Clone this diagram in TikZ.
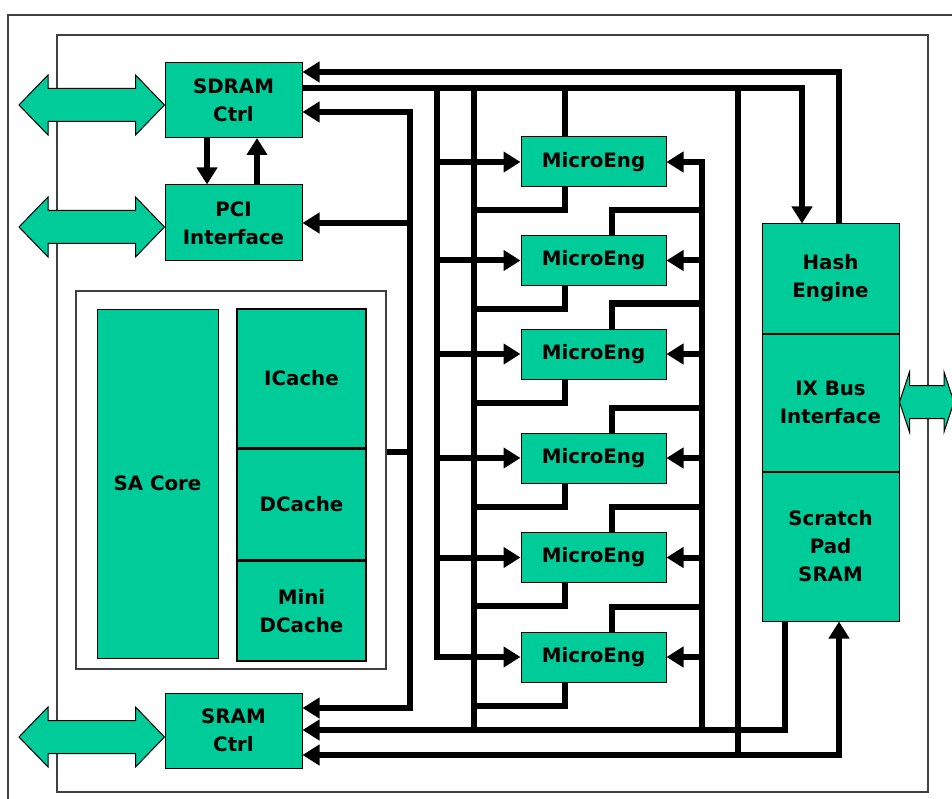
\documentclass[tikz,border=0pt]{standalone}
\usepackage{fontspec}
\setmainfont{DejaVu Sans}
\usepackage{tikz}
\usetikzlibrary{positioning,arrows.meta}
\definecolor{chipgreen}{RGB}{0,204,153}
\newcommand{\busway}[3]{%
  \filldraw[fill=chipgreen,draw=black,line width=1pt]
    (#1) -- ([shift={(#3,30)}]#1) -- ([shift={(#3,16.5)}]#1)
    -- ([shift={(-#3,16.5)}]#2) -- ([shift={(-#3,30)}]#2) -- (#2)
    -- ([shift={(-#3,-30)}]#2) -- ([shift={(-#3,-16.5)}]#2)
    -- ([shift={(#3,-16.5)}]#1) -- ([shift={(#3,-30)}]#1) -- cycle;}

\begin{document}
\begin{tikzpicture}[
    x=1pt, y=-1pt,
    font=\bfseries\fontsize{19.8}{28}\selectfont,
    blk/.style={rectangle, draw, fill=chipgreen, line width=1pt, align=center, inner sep=0pt},
    ctrl/.style={blk, minimum width=137pt, minimum height=75pt},
    cache/.style={blk, minimum width=129pt, line width=1.6pt},
    me/.style={blk, minimum width=145pt, minimum height=50pt},
    frame/.style={draw=black!75, line width=1.5pt},
    bus/.style={line width=6pt},
    arrow/.style={bus, -{Triangle[length=17pt,width=20pt]}},
    dblarrow/.style={bus, {Triangle[length=17pt,width=20pt]}-{Triangle[length=17pt,width=20pt]}}
]
\useasboundingbox (0,0) rectangle (952,799);
\clip (0,0) rectangle (952,799);
\fill[white] (0,0) rectangle (952,799);
\draw[frame] (8,15) rectangle (990,840);
\draw[frame] (57,35) rectangle (928,792);

\node[ctrl] (sdram) at (233.5,100) {SDRAM\\Ctrl};
\node[ctrl, minimum height=76pt] (pci) at (233.5,223) {PCI\\Interface};
\node[ctrl] (sram) at (233.5,730.5) {SRAM\\Ctrl};

\node[frame, fill=white, minimum width=310pt, minimum height=378pt] (core) at (231,480) {};
\node[blk, minimum width=121pt, minimum height=349pt] (sacore) at (157.5,483.5) {SA Core};
\node[cache, minimum height=139pt] (icache) at (301.5,378.5) {ICache};
\node[cache, minimum height=110pt, below=0pt of icache] (dcache) {DCache};
\node[cache, minimum height=100pt, below=0pt of dcache] (minidc) {Mini\\DCache};

\foreach \i/\y in {1/162,2/260.5,3/354,4/458,5/557.5,6/657}
  \node[me] (me\i) at (593.5,\y) {MicroEng};

\node[blk, minimum width=137pt, minimum height=109pt] (hash) at (830.5,278.5) {Hash\\Engine};
\node[blk, minimum width=137pt, minimum height=137pt, below=0pt of hash] (ixbus) {IX Bus\\Interface};
\node[blk, minimum width=137pt, minimum height=149pt, below=0pt of ixbus] (scratch) {Scratch\\Pad\\SRAM};

\coordinate (sdramext) at (19,105);
\coordinate (pciext) at (19,227);
\coordinate (sramext) at (19,737);
\coordinate (ixext) at (954,402);
\busway{sdramext}{sdram.west |- sdramext}{29}
\busway{pciext}{pci.west |- pciext}{29}
\busway{sramext}{sram.west |- sramext}{29}
\busway{ixbus.east |- ixext}{ixext}{10}

\coordinate (sysbus) at (410,0);
\coordinate (mein) at (437,0);
\coordinate (meout) at (474,0);
\coordinate (mebot) at (565,0);
\coordinate (metop) at (612,0);
\coordinate (meret) at (702,0);
\coordinate (sbus) at (738,0);
\coordinate (spout) at (785,0);
\coordinate (hashin) at (802,0);
\coordinate (hashout) at (839,0);
\coordinate (r72) at (0,72);
\coordinate (r88) at (0,88);
\coordinate (r112) at (0,112);
\coordinate (r452) at (0,452);
\coordinate (r708) at (0,708);
\coordinate (r730) at (0,730);
\coordinate (r755) at (0,755);

\draw[arrow] ([xshift=-26.5pt]sdram.south) -- ([xshift=-26.5pt]pci.north);
\draw[arrow] ([xshift=23.5pt]pci.north) -- ([xshift=23.5pt]sdram.south);

\draw[arrow] (hash.north -| hashout) |- (sdram.east |- r72);
\draw[arrow] (sdram.east |- r88) -| (hash.north -| hashin);
\draw[dblarrow] (sdram.east |- r112) -| (sysbus |- r708) -- (sram.east |- r708);
\draw[arrow] (sysbus |- pci.east) -- (pci.east);
\draw[bus] (core.east |- r452) -- (sysbus |- r452);

\draw[arrow] (mein |- r88) |- (me6.west);
\foreach \i in {1,...,5}
  \draw[arrow] (mein |- me\i.west) -- (me\i.west);
\draw[bus] (meout |- r88) -- (meout |- r730);
\draw[bus] (me1.north -| mebot) -- (mebot |- r88);
\foreach \i in {1,...,6}
  \draw[bus] (me\i.south -| mebot) |- ([yshift=-23pt]me\i.south -| meout);
\foreach \i in {2,...,6}
  \draw[bus] (me\i.north -| metop) |- ([yshift=25pt]me\i.north -| meret);
\draw[arrow] (meret |- r730) |- (me1.east);
\foreach \i in {2,...,6}
  \draw[arrow] (meret |- me\i.east) -- (me\i.east);

\draw[bus] (sbus |- r88) -- (sbus |- r755);
\draw[arrow] (scratch.south -| spout) |- (sram.east |- r730);
\draw[dblarrow] (sram.east |- r755) -| (scratch.south -| hashout);
\end{tikzpicture}
\end{document}
